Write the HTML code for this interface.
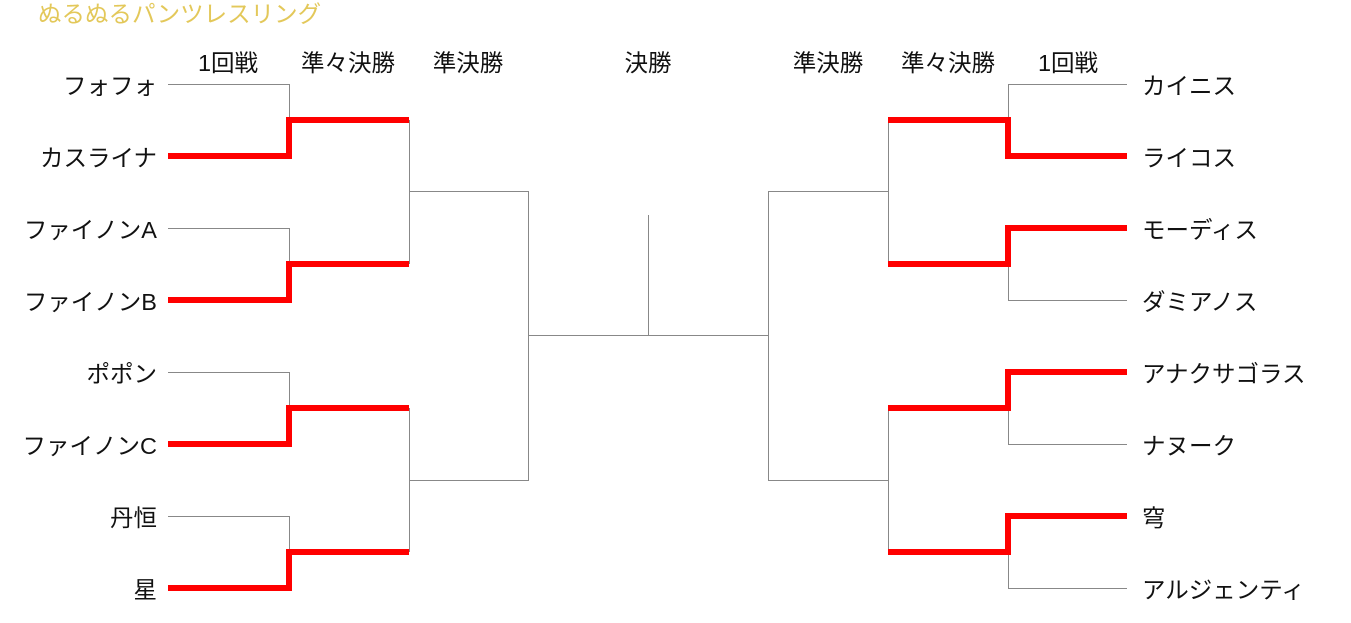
<!DOCTYPE html>
<html><head><meta charset="utf-8"><style>
html,body{margin:0;padding:0;background:#fff;width:1351px;height:623px;overflow:hidden}
svg text{font-family:"Liberation Sans","Noto Sans CJK JP",sans-serif;font-size:23.5px;fill:#111;dominant-baseline:central}
</style></head><body>
<svg width="1351" height="623" xmlns="http://www.w3.org/2000/svg">
<text x="38" y="14" style="fill:#e3c85a;font-size:23.5px">ぬるぬるパンツレスリング</text>
<g text-anchor="middle" style="font-size:23px">
<text x="228" y="63">1回戦</text>
<text x="348" y="63">準々決勝</text>
<text x="468" y="63">準決勝</text>
<text x="648" y="63">決勝</text>
<text x="828" y="63">準決勝</text>
<text x="948" y="63">準々決勝</text>
<text x="1068" y="63">1回戦</text>
</g>
<g text-anchor="end">
<text x="157" y="86">フォフォ</text>
<text x="157" y="158">カスライナ</text>
<text x="157" y="230">ファイノンA</text>
<text x="157" y="302">ファイノンB</text>
<text x="157" y="374">ポポン</text>
<text x="157" y="446">ファイノンC</text>
<text x="157" y="518">丹恒</text>
<text x="157" y="590">星</text>
</g>
<g text-anchor="start">
<text x="1142" y="86">カイニス</text>
<text x="1142" y="158">ライコス</text>
<text x="1142" y="230">モーディス</text>
<text x="1142" y="302">ダミアノス</text>
<text x="1142" y="374">アナクサゴラス</text>
<text x="1142" y="446">ナヌーク</text>
<text x="1142" y="518">穹</text>
<text x="1142" y="590">アルジェンティ</text>
</g>
<g fill="none" stroke="#888" stroke-width="1">
<path d="M168 84.5H289.5V156"/><path d="M168 228.5H289.5V300"/><path d="M168 372.5H289.5V444"/><path d="M168 516.5H289.5V588"/>
<path d="M409.5 120V264"/><path d="M409.5 408V552"/>
<path d="M409 191.5H528.5V480.5H409"/>
<path d="M528 335.5H768"/>
<path d="M648.5 215V335"/>
<path d="M1127 84.5H1008.5V156"/><path d="M1127 300.5H1008.5V228"/><path d="M1127 444.5H1008.5V372"/><path d="M1127 588.5H1008.5V516"/>
<path d="M888.5 120V264"/><path d="M888.5 408V552"/>
<path d="M889 191.5H768.5V480.5H889"/>
</g>
<g fill="none" stroke="#f00" stroke-width="6">
<path d="M168 156H289V120H409"/>
<path d="M168 300H289V264H409"/>
<path d="M168 444H289V408H409"/>
<path d="M168 588H289V552H409"/>
<path d="M1127 156H1008V120H888"/>
<path d="M1127 228H1008V264H888"/>
<path d="M1127 372H1008V408H888"/>
<path d="M1127 516H1008V552H888"/>
</g>
</svg>
</body></html>
